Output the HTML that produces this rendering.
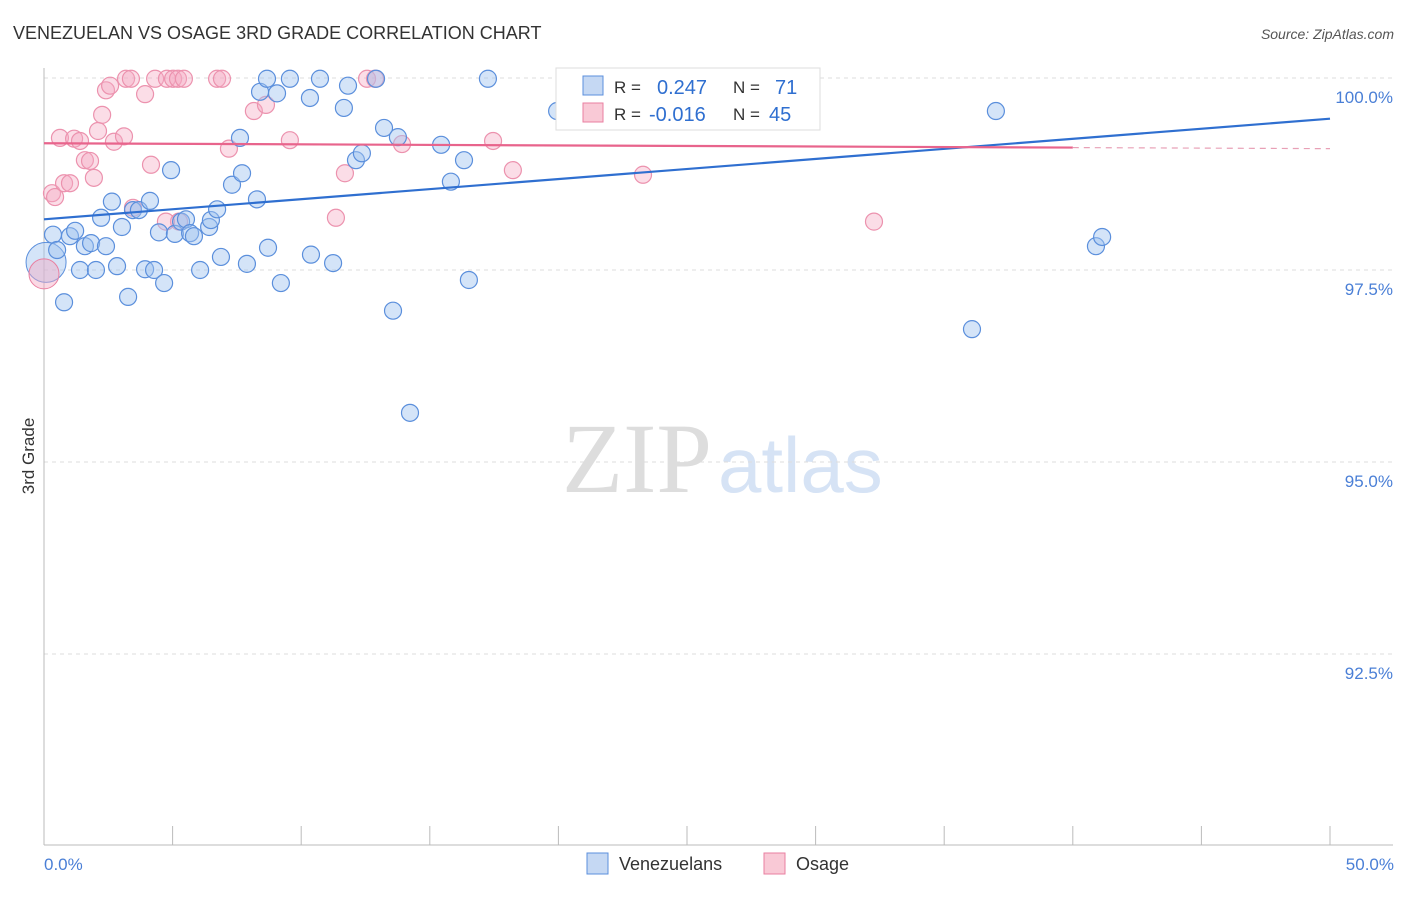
<!DOCTYPE html>
<html><head><meta charset="utf-8"><style>
body{margin:0;background:#fff;font-family:"Liberation Sans",sans-serif;}
svg text{font-family:"Liberation Sans",sans-serif;}
</style></head><body>
<svg width="1406" height="892">
<text x="13" y="39" font-size="18" fill="#333">VENEZUELAN VS OSAGE 3RD GRADE CORRELATION CHART</text>
<text x="1394" y="39" font-size="14" fill="#555" font-style="italic" text-anchor="end">Source: ZipAtlas.com</text>
<text x="712" y="492" font-size="100" fill="#ddd" text-anchor="end" style="font-family:'Liberation Serif',serif">ZIP</text>
<text x="718" y="492" font-size="78" fill="#d6e3f5">atlas</text>
<g id="grid"></g><g id="axes"></g><g id="pts"></g><g id="trend"></g>
<text transform="translate(34,456) rotate(-90)" font-size="17" fill="#333" text-anchor="middle">3rd Grade</text>
<text x="44" y="870" font-size="17" fill="#4a7fd6">0.0%</text>
<text x="1394" y="870" font-size="17" fill="#4a7fd6" text-anchor="end">50.0%</text>
<g>
<rect x="556" y="68" width="264" height="62" fill="#fff" stroke="#ddd"/>
<rect x="583" y="76" width="20" height="19" fill="#c5d8f3" stroke="#5b8fdc"/>
<rect x="583" y="103" width="20" height="19" fill="#f9c9d6" stroke="#e97fa0"/>
<text x="614" y="93" font-size="17" fill="#333">R = </text>
<text x="657" y="94" font-size="20" fill="#2f6fd0">0.247</text>
<text x="733" y="93" font-size="17" fill="#333">N = </text>
<text x="775" y="94" font-size="20" fill="#2f6fd0">71</text>
<text x="614" y="120" font-size="17" fill="#333">R = </text>
<text x="649" y="121" font-size="20" fill="#2f6fd0">-0.016</text>
<text x="733" y="120" font-size="17" fill="#333">N = </text>
<text x="769" y="121" font-size="20" fill="#2f6fd0">45</text>
</g>
<g>
<rect x="587" y="853" width="21" height="21" fill="#c5d8f3" stroke="#5b8fdc"/>
<text x="619" y="870" font-size="18" fill="#333">Venezuelans</text>
<rect x="764" y="853" width="21" height="21" fill="#f9c9d6" stroke="#e97fa0"/>
<text x="796" y="870" font-size="18" fill="#333">Osage</text>
</g>
</svg>
<script>
const yTicks=[100,97.5,95,92.5];
const yTickLabels=["100.0%","97.5%","95.0%","92.5%"];
const xTicks=[0,5,10,15,20,25,30,35,40,45,50];
const blueX=[0.35,0.51,0.78,1.01,1.21,1.40,1.59,1.83,2.02,2.22,2.41,2.64,2.84,3.03,3.27,3.46,3.69,3.93,4.12,4.28,4.47,4.67,4.94,5.09,5.33,5.52,5.68,5.83,6.07,6.42,6.49,6.73,6.88,7.31,7.62,7.70,7.89,8.28,8.40,8.67,8.71,9.06,9.21,9.56,10.34,10.38,10.73,11.24,11.66,11.82,12.13,12.36,12.91,13.22,13.57,13.76,14.23,15.44,15.82,16.33,16.52,17.26,19.95,21.42,36.08,37.01,40.90,41.14];
const blueY=[97.96,97.76,97.08,97.94,98.01,97.50,97.81,97.85,97.50,98.18,97.81,98.39,97.55,98.06,97.15,98.28,98.28,97.51,98.40,97.50,97.99,97.33,98.80,97.97,98.13,98.16,97.98,97.94,97.50,98.06,98.15,98.29,97.67,98.61,99.22,98.76,97.58,98.42,99.82,99.99,97.79,99.80,97.33,99.99,99.74,97.70,99.99,97.59,99.61,99.90,98.93,99.02,99.99,99.35,96.97,99.23,95.64,99.13,98.65,98.93,97.37,99.99,99.57,99.99,96.73,99.57,97.81,97.93];
const pinkX=[0.31,0.43,0.62,0.78,1.01,1.17,1.40,1.59,1.79,1.94,2.10,2.26,2.41,2.57,2.72,3.11,3.19,3.38,3.46,3.93,4.16,4.32,4.78,5.02,5.21,5.44,5.25,4.74,6.73,6.92,7.19,8.16,8.63,9.56,11.35,11.70,12.56,12.87,13.92,17.46,18.23,22.71,23.29,32.27];
const pinkY=[98.50,98.45,99.22,98.63,98.63,99.21,99.18,98.93,98.92,98.70,99.31,99.52,99.84,99.90,99.17,99.24,99.99,99.99,98.31,99.79,98.87,99.99,99.99,99.99,99.99,99.99,98.13,98.13,99.99,99.99,99.08,99.57,99.65,99.19,98.18,98.76,99.99,99.99,99.14,99.18,98.80,99.99,98.74,98.13];
const blueTrend=[98.16,99.47];
const pinkTrend=[99.15,99.08];
const NS="http://www.w3.org/2000/svg";
const X=v=>44+v*25.72, Y=v=>78+(100-v)*76.8;
function mk(p,t,a){const e=document.createElementNS(NS,t);for(const k in a)e.setAttribute(k,a[k]);p.appendChild(e);return e;}
const grid=document.getElementById('grid'),axes=document.getElementById('axes'),pts=document.getElementById('pts'),tr=document.getElementById('trend');
yTicks.forEach((t,i)=>{
 const l=mk(grid,'line',{x1:44,x2:1393,y1:Y(t),y2:Y(t),stroke:'#ddd','stroke-dasharray':'4,4'});
 
 
 const tx=mk(grid,'text',{x:1393,y:Y(t)+25,'font-size':17,fill:'#4a7fd6','text-anchor':'end'});
 tx.textContent=yTickLabels[i];
 
 
});
const ya=mk(axes,'line',{x1:44,x2:44,y1:68,y2:845,stroke:'#bbb'});


const xa=mk(axes,'line',{x1:44,x2:1393,y1:845,y2:845,stroke:'#bbb'});


xTicks.forEach(t=>{
 const l=mk(axes,'line',{x1:X(t),x2:X(t),y1:826,y2:845,stroke:'#bbb'});
 
 
});
const bb=mk(pts,'circle',{cx:X(0.08),cy:Y(97.6),r:20,fill:'rgba(160,195,240,0.45)',stroke:'#5b8fdc'});


const pb=mk(pts,'circle',{cx:X(0.0),cy:Y(97.45),r:15,fill:'rgba(245,170,195,0.45)',stroke:'#e97fa0'});


pinkX.forEach((x,i)=>{
 const c=mk(pts,'circle',{cx:X(x),cy:Y(pinkY[i]),r:8.5,fill:'rgba(245,170,195,0.4)',stroke:'#ec92ae','stroke-width':1.2});
 
 
});
blueX.forEach((x,i)=>{
 const c=mk(pts,'circle',{cx:X(x),cy:Y(blueY[i]),r:8.5,fill:'rgba(160,195,240,0.45)',stroke:'#5b8fdc','stroke-width':1.2});
 
 
});
const bl=mk(tr,'line',{x1:X(0),y1:Y(blueTrend[0]),x2:X(50),y2:Y(blueTrend[1]),stroke:'#2f6fd0','stroke-width':2.2});


const py=x=>pinkTrend[0]+(pinkTrend[1]-pinkTrend[0])*x/50;
const pl=mk(tr,'line',{x1:X(0),y1:Y(py(0)),x2:X(40),y2:Y(py(40)),stroke:'#e8648c','stroke-width':2.2});


const pd=mk(tr,'line',{x1:X(40),y1:Y(py(40)),x2:X(50),y2:Y(py(50)),stroke:'#e8a0b6','stroke-width':1.2,'stroke-dasharray':'6,5'});


</script>
</body></html>
